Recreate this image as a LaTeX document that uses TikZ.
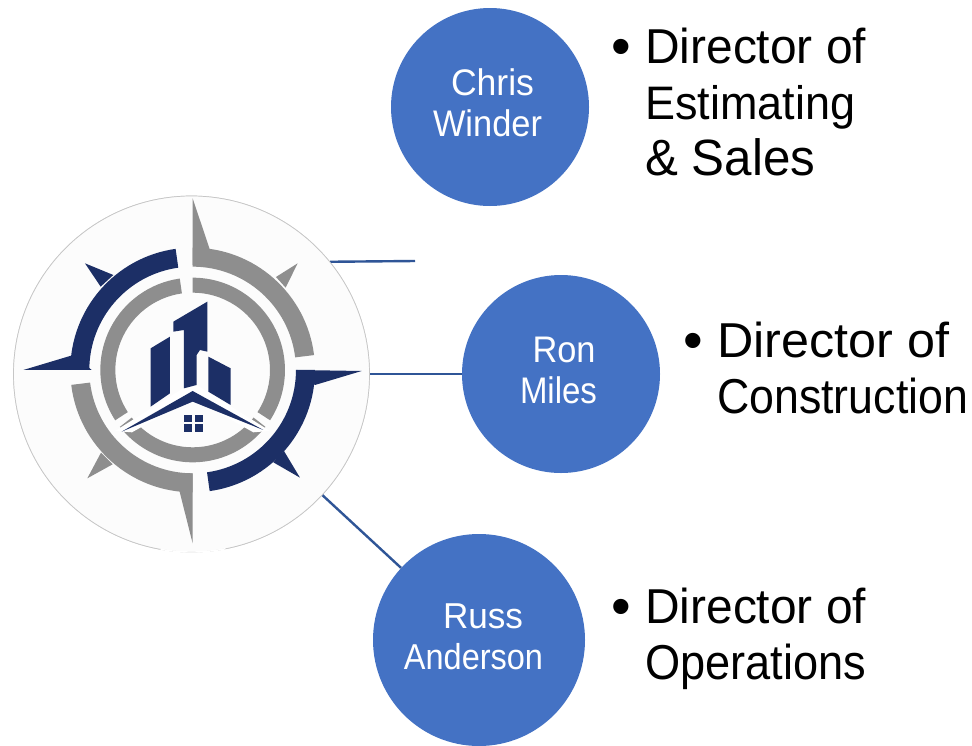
\documentclass[tikz,border=0pt]{standalone}
\usepackage{fontspec}
\setmainfont{Liberation Sans}
\definecolor{circblue}{HTML}{4472C4}
\definecolor{linkblue}{HTML}{2F5597}
\definecolor{logonavy}{HTML}{1C2F66}
\definecolor{logogray}{HTML}{8E8E8E}
\newcommand{\ringseg}[5]{% color, r1, r2, a1, a2
  \fill[#1] ([shift={(#4:#3)}]578,555) arc[start angle=#4,end angle=#5,radius=#3]
    -- ([shift={(#5:#2)}]578,555) arc[start angle=#5,end angle=#4,radius=#2] -- cycle;}
\newcommand{\fitl}[3]{{\fontsize{#1}{#1}\selectfont\resizebox{#2pt}{\height}{#3}}}
\tikzset{
  person/.style={circle,fill=circblue,inner sep=0pt},
  plabel/.style={anchor=base,inner sep=0pt,align=center,text=white,
    font=\fontsize{36}{40.5}\selectfont},
  role/.style={anchor=base west,inner sep=0pt,align=left,text=black,
    font=\fontsize{48}{56}\selectfont},
  dot/.style={anchor=center,inner sep=0pt,text=black,font=\fontsize{56}{56}\selectfont},
  link/.style={draw=linkblue,line width=2.4pt},
  logodisc/.style={circle,fill=white!99!black,draw=gray!45,line width=0.7pt,inner sep=0pt,minimum size=356pt}
}
\begin{document}
\begin{tikzpicture}[x=1pt,y=-1pt]
\useasboundingbox (0,0) rectangle (972,745);
\fill[white] (0,0) rectangle (972,745);
\node[logodisc] (logo) at (191.5,374) {};
\node[person,minimum size=198pt] (chris) at (490,107) {};
\node[person,minimum size=198pt] (ron) at (561,374) {};
\node[person,minimum size=212pt] (russ) at (479,640) {};
\coordinate (free) at (415,261);
\draw[link] (logo.39.3) -- (free);
\draw[link] (logo) -- (ron);
\draw[link] (logo) -- (russ);
\node[logodisc] at (logo) {};
% the rim fades out along the bottom
\draw[white,line width=1.4pt] ([shift={(79:178)}]191.5,374) arc[start angle=79,end angle=100,radius=178];
\begin{scope}[shift={(0,185)},x=0.3333pt,y=-0.3333pt]
  % outer ring
  \ringseg{logonavy}{310}{367}{180}{262}
  \ringseg{logogray}{310}{367}{-90}{-7}
  \ringseg{logonavy}{310}{367}{0}{82}
  \ringseg{logogray}{310}{367}{90}{173}
  % spikes
  \fill[logogray] (578,40) -- (630,195) -- (578,240) -- cycle;
  \fill[logogray] (578,1075) -- (525,865) -- (578,865) -- cycle;
  \fill[logonavy] (70,555) -- (220,510) -- (275,555) -- cycle;
  \fill[logonavy] (1085,558) -- (945,600) -- (890,555) -- cycle;
  \fill[logogray] (893,235) -- (828,276) -- (857,308) -- cycle;
  \fill[logonavy] (255,235) -- (340,270) -- (302,305) -- cycle;
  \fill[logonavy] (900,878) -- (852,798) -- (820,832) -- cycle;
  \fill[logogray] (262,880) -- (303,803) -- (338,838) -- cycle;
  % inner ring
  \ringseg{logogray}{232}{277}{-90}{33}
  \ringseg{logogray}{232}{277}{147}{262}
  \ringseg{logogray}{232}{277}{38}{142}
  % roof
  \fill[white] (578,592) -- (810,738) -- (760,742) -- (578,640) -- (396,742) -- (345,738) -- cycle;
  \fill[logonavy] (578,618) -- (790,735) -- (578,650) -- (365,740) -- cycle;
  % towers
  \fill[logonavy] (452,490) -- (510,455) -- (510,625) -- (452,665) -- cycle;
  \fill[logonavy] (520,410) -- (622,350) -- (622,500) -- (600,495) -- (590,510) -- (590,600) -- (552,610) -- (552,435) -- (520,440) -- cycle;
  \fill[logonavy] (625,515) -- (692,550) -- (692,660) -- (625,620) -- cycle;
  % window
  \fill[logonavy] (553,690) rectangle (577,712);
  \fill[logonavy] (585,690) rectangle (610,712);
  \fill[logonavy] (553,718) rectangle (577,740);
  \fill[logonavy] (585,718) rectangle (610,740);
\end{scope}
\node[plabel] (chrislabel) at (487.5,136) {\hspace*{10pt}\fitl{37}{83}{Chris}\\\fitl{37}{109}{Winder}};
\node[plabel] (ronlabel) at (558.5,403) {\hspace*{11pt}\fitl{37}{63}{Ron}\\\fitl{37}{77}{Miles}};
\node[plabel] (russlabel) at (473.5,669) {\hspace*{19pt}\fitl{36}{80}{Russ}\\\fitl{36}{139}{Anderson}};
\node[dot] (b1) at (621,52) {•};
\node[dot] (b2) at (693,346) {•};
\node[dot] (b3) at (621,612) {•};
\node[role] (t1) at (645,175) {\fitl{49}{221}{Director of}\\\fitl{47}{210}{Estimating}\\\fitl{51}{170}{\& Sales}};
\node[role] (t2) at (717,413) {\fitl{49}{232}{Director of}\\\fitl{49}{251}{Construction}};
\node[role] (t3) at (645,679) {\fitl{49}{221}{Director of}\\\fitl{49}{221}{Operations}};
\end{tikzpicture}
\end{document}
